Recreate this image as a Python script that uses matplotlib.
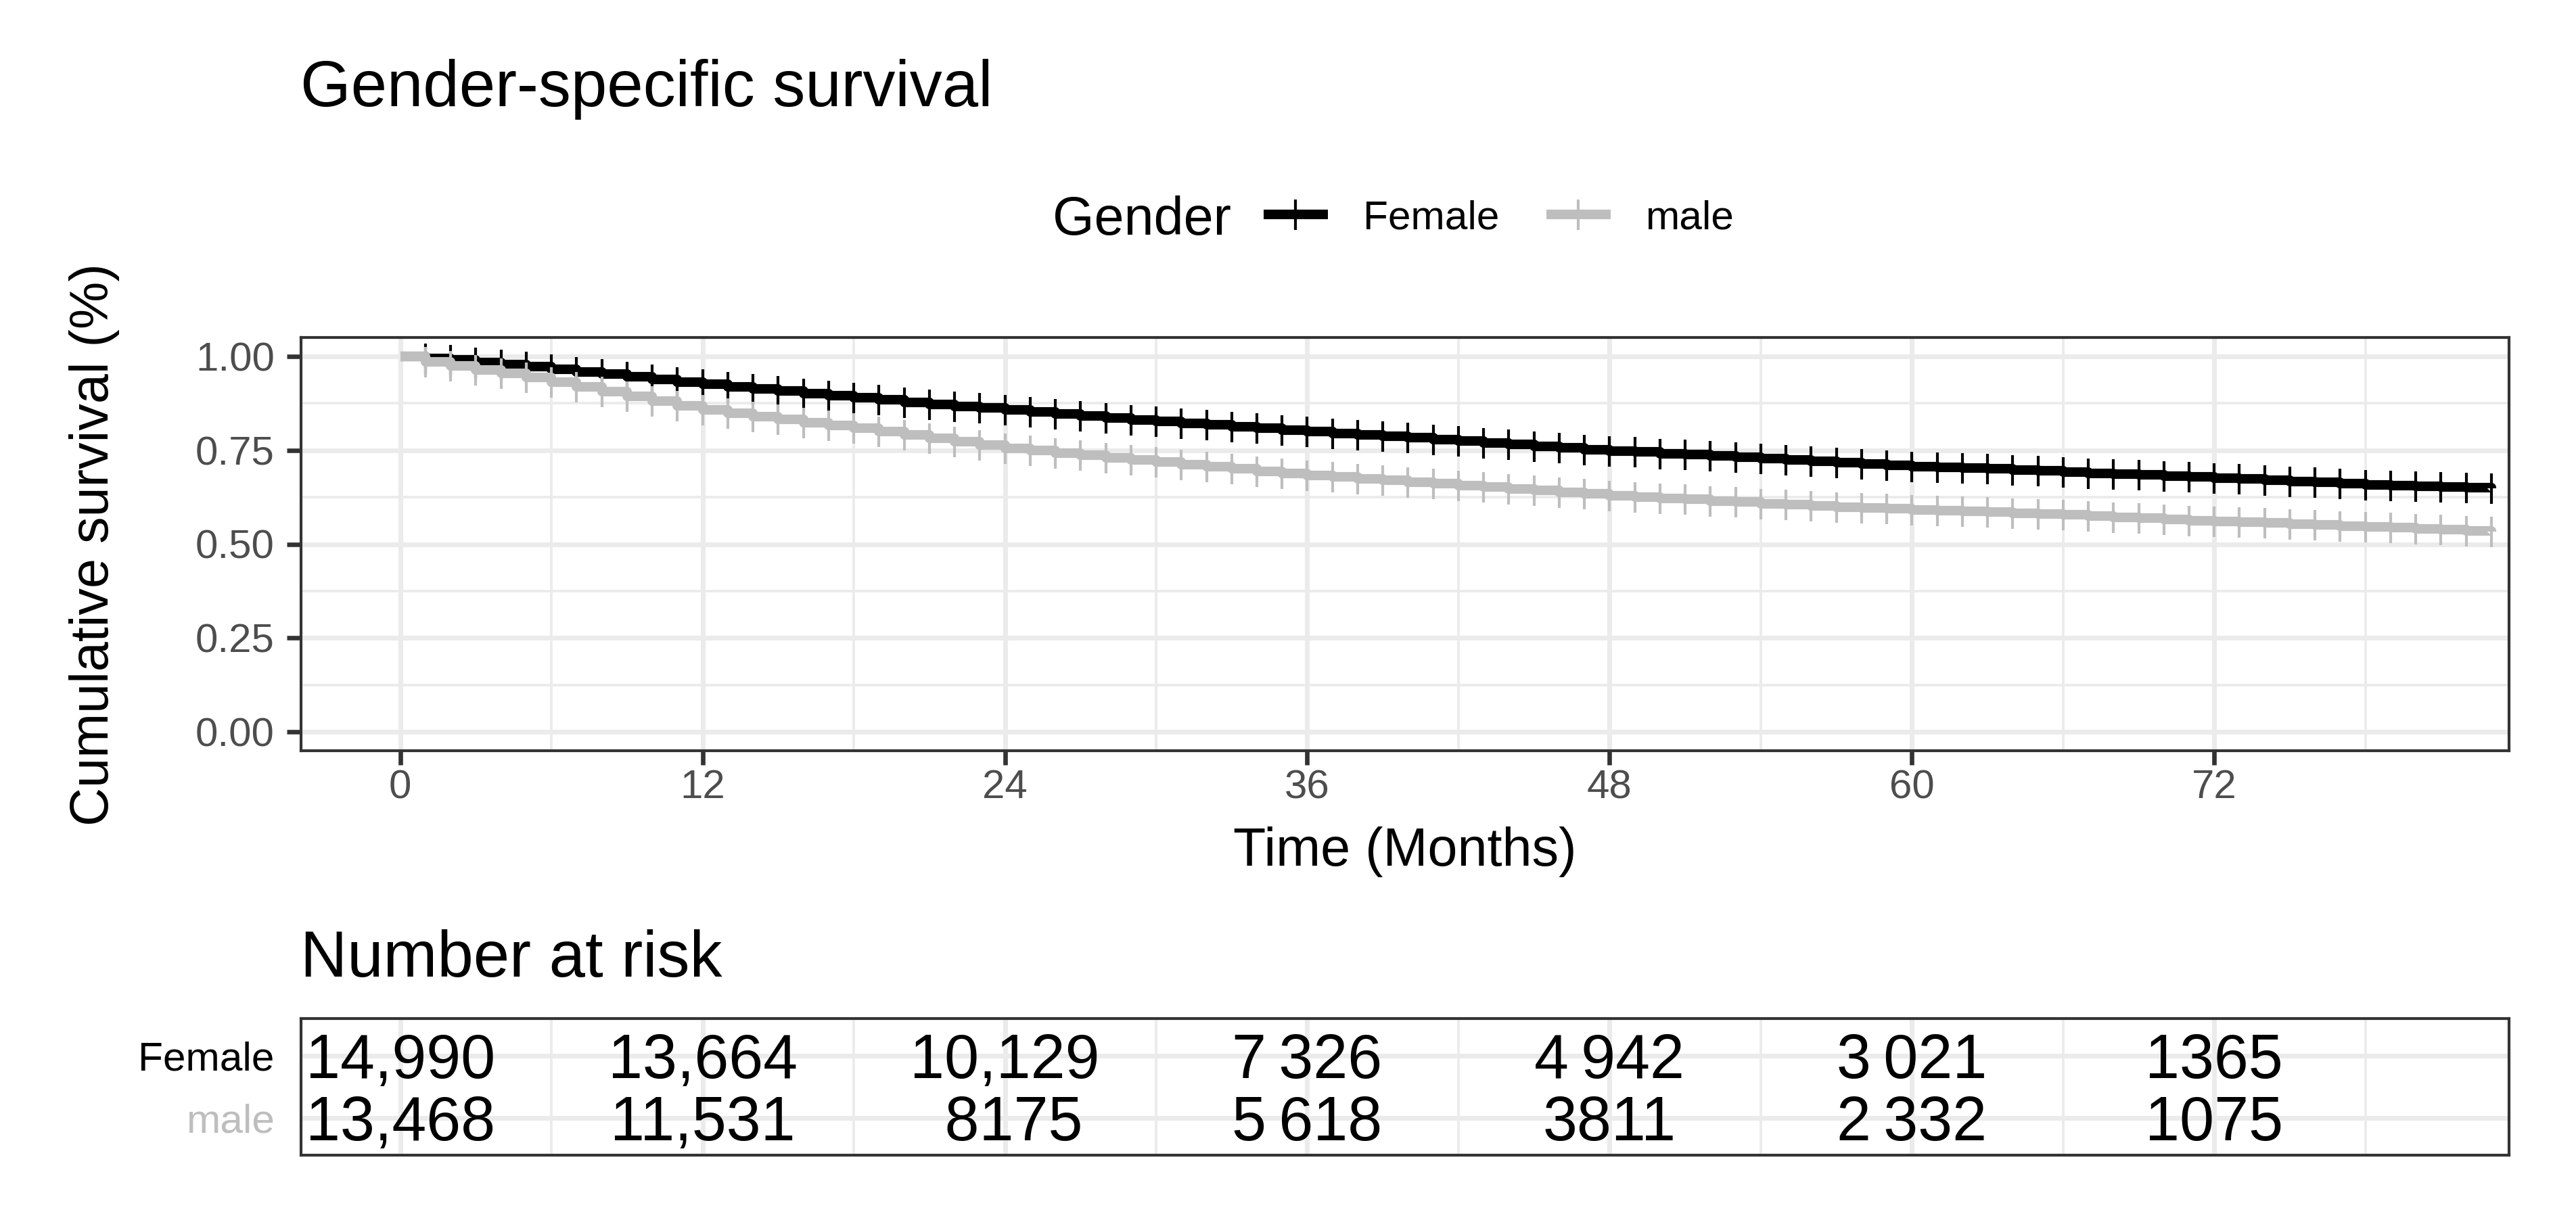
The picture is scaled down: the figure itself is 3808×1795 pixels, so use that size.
import numpy as np
import matplotlib
matplotlib.use('Agg')
import matplotlib.pyplot as plt
from matplotlib.lines import Line2D
from matplotlib import transforms

plt.rcParams['font.family'] = ['Liberation Sans', 'DejaVu Sans']

# months since diagnosis (censor marks at every month)
months = list(range(0, 84))

# Kaplan-Meier estimates
female_surv = [1.000, 0.995, 0.990, 0.984, 0.978, 0.972, 0.966, 0.959, 0.952, 0.945,
               0.938, 0.932, 0.925, 0.919, 0.913, 0.907, 0.901, 0.896, 0.890, 0.884,
               0.878, 0.872, 0.867, 0.862, 0.857, 0.852, 0.847, 0.842, 0.836, 0.831,
               0.826, 0.821, 0.817, 0.812, 0.808, 0.803, 0.799, 0.795, 0.791, 0.787,
               0.783, 0.779, 0.775, 0.770, 0.766, 0.761, 0.757, 0.752, 0.748, 0.745,
               0.741, 0.738, 0.735, 0.731, 0.728, 0.724, 0.721, 0.717, 0.714, 0.710,
               0.707, 0.705, 0.702, 0.700, 0.697, 0.695, 0.692, 0.689, 0.687, 0.684,
               0.681, 0.679, 0.676, 0.673, 0.670, 0.667, 0.664, 0.661, 0.658, 0.656,
               0.654, 0.652, 0.650, 0.649]
male_surv = [1.000, 0.985, 0.975, 0.964, 0.954, 0.943, 0.932, 0.919, 0.906, 0.893,
             0.881, 0.869, 0.857, 0.848, 0.840, 0.832, 0.824, 0.816, 0.808, 0.800,
             0.791, 0.782, 0.773, 0.764, 0.755, 0.749, 0.743, 0.737, 0.730, 0.724,
             0.718, 0.712, 0.706, 0.700, 0.694, 0.689, 0.683, 0.679, 0.674, 0.670,
             0.665, 0.661, 0.656, 0.652, 0.647, 0.643, 0.638, 0.634, 0.629, 0.626,
             0.622, 0.619, 0.615, 0.612, 0.608, 0.605, 0.602, 0.599, 0.597, 0.594,
             0.591, 0.589, 0.587, 0.585, 0.582, 0.580, 0.578, 0.575, 0.572, 0.569,
             0.566, 0.563, 0.560, 0.558, 0.556, 0.553, 0.551, 0.548, 0.546, 0.544,
             0.541, 0.539, 0.536, 0.533]

groups = ['Female', 'male']
colors = ['black', '#BEBEBE']

# number at risk table
risk_times = [0, 12, 24, 36, 48, 60, 72]
risk_female = ['14,990', '13,664', '10,129', '7\u2009326', '4\u2009942', '3\u2009021', '1365']
risk_male = ['13,468', '11,531', ' 8175', '5\u2009618', '3811', '2\u2009332', '1075']

W, H = 3808, 1795
fig = plt.figure(figsize=(W / 300, H / 300), dpi=300)

grid_col = '#EBEBEB'
border_col = '#333333'


def style_panel(ax):
    ax.set_xlim(-3.95, 83.7)
    ax.set_xticks(range(0, 84, 12))
    ax.set_xticks(range(6, 84, 12), minor=True)
    ax.grid(which='major', color=grid_col, lw=1.7)
    ax.grid(which='minor', color=grid_col, lw=0.9)
    ax.set_axisbelow(True)
    for sp in ax.spines.values():
        sp.set_color(border_col)
        sp.set_linewidth(1.0)
    ax.tick_params(which='minor', length=0)


# ---- survival curves ----
ax = fig.add_axes([444.6 / W, 685 / H, (3709 - 444.6) / W, 611 / H])
style_panel(ax)
ax.set_ylim(-0.05, 1.05)
ax.set_yticks([0, 0.25, 0.5, 0.75, 1.0])
ax.set_yticks([0.125, 0.375, 0.625, 0.875], minor=True)
ax.set_yticklabels(['0.00', '0.25', '0.50', '0.75', '1.00'])
ax.tick_params(which='major', length=5, width=1.6, color=border_col,
               labelcolor='#4D4D4D', labelsize=14.4)
ax.tick_params(axis='y', pad=4.3)
ax.tick_params(axis='x', pad=1.5)

for surv, col in zip([female_surv, male_surv], colors):
    ax.plot(months, surv, drawstyle='steps-post', color=col, lw=3.4,
            solid_capstyle='butt', marker='|', markersize=10.8, mew=1.0,
            markevery=slice(1, None))

fig.text(444 / W, 1 - 157 / H, 'Gender-specific survival', fontsize=23, va='baseline')
fig.text(0.5 * (444.6 + 3709) / W, 1 - 1280 / H, 'Time (Months)', fontsize=19,
         ha='center', va='baseline')
fig.text(140 / W, 1 - 805 / H, 'Cumulative survival (%)', fontsize=19,
         rotation=90, ha='center', va='center')

# legend with the title on the left
fig.text(1556 / W, 1 - 347 / H, 'Gender', fontsize=19, va='baseline')
handles = [Line2D([], [], color=c, lw=3.4, marker='|', markersize=10.8, mew=1.0,
                  solid_capstyle='butt') for c in colors]
fig.legend(handles, groups, ncol=2, loc='center left',
           bbox_to_anchor=(1868 / W, 1 - 323 / H), frameon=False, fontsize=14.5,
           borderpad=0, borderaxespad=0, handlelength=1.57, handletextpad=0.86,
           columnspacing=1.15, numpoints=1)

# ---- number at risk ----
fig.text(444 / W, 1 - 1444 / H, 'Number at risk', fontsize=23, va='baseline')
axr = fig.add_axes([444.6 / W, 87 / H, (3709 - 444.6) / W, 202 / H])
style_panel(axr)
axr.set_ylim(0.4, 2.6)
axr.set_yticks([2, 1])
axr.set_yticklabels(groups)
for lab, col in zip(axr.get_yticklabels(), colors):
    lab.set_color(col)
axr.tick_params(which='major', length=0, labelsize=14.5, pad=9.3)
axr.tick_params(axis='x', labelbottom=False)

base = transforms.offset_copy(axr.transData, fig=fig, y=-7.9, units='points')
for row, vals in zip([2, 1], [risk_female, risk_male]):
    for t, s in zip(risk_times, vals):
        axr.text(t, row, s, transform=base, ha='center', va='baseline',
                 fontsize=22, color='black')

fig.savefig('out.png', dpi=300)
